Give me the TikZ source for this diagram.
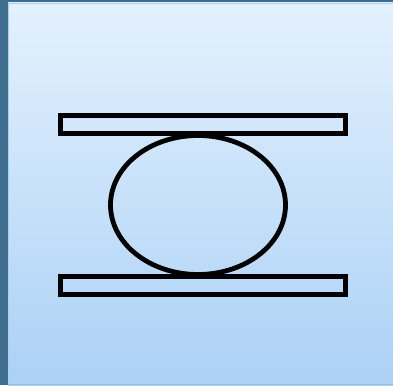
\documentclass[tikz,border=0pt]{standalone}
\usetikzlibrary{shapes.geometric}
\begin{document}
\begin{tikzpicture}[x=1pt,y=-1pt,
  thickline/.style={draw=black,line width=4.8pt,inner sep=0pt}]
\definecolor{darkstrip}{HTML}{3F6D8E}
\definecolor{topc}{HTML}{E4F1FD}
\definecolor{botc}{HTML}{ABD1F6}
\definecolor{edgec}{HTML}{A8D0F0}
\useasboundingbox (0,0) rectangle (393,385);
\fill[darkstrip] (0,0) rectangle (393,385);
\shade[top color=topc,bottom color=botc] (8,3) rectangle (393,385);
\draw[edgec,line width=1pt] (8.5,385) -- (8.5,3.5) -- (393,3.5);
\draw[botc!80!darkstrip,line width=1pt] (8,384.5) -- (393,384.5);
\node[thickline,rectangle,minimum width=285pt,minimum height=18.5pt] (top) at (203,124.5) {};
\node[thickline,rectangle,minimum width=285pt,minimum height=18.5pt] (bot) at (203,285.5) {};
\node[thickline,ellipse,minimum width=175pt,minimum height=139pt] (ell) at (198,205) {};
\end{tikzpicture}
\end{document}
